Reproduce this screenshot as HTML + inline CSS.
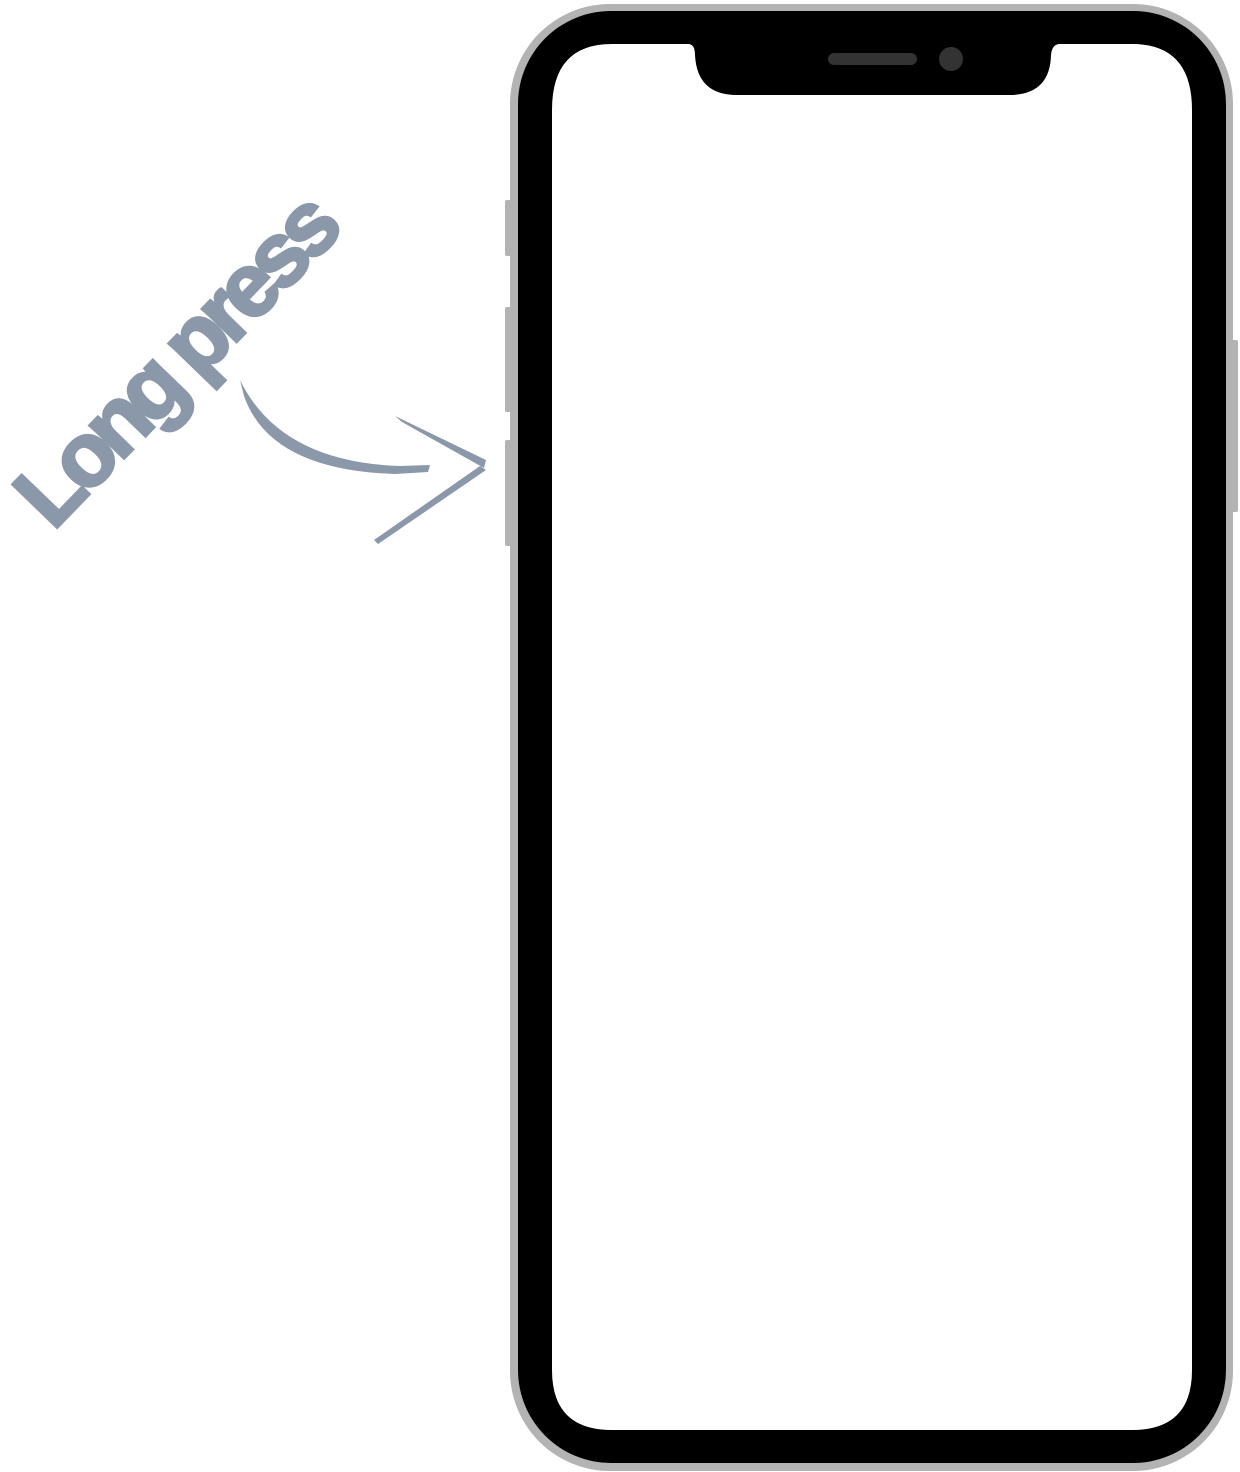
<!DOCTYPE html>
<html><head><style>
html,body{margin:0;padding:0;background:#fff;}
body{width:1240px;height:1472px;position:relative;overflow:hidden;}
.t{position:absolute;left:176px;top:362px;transform:translate(-50%,-50%) rotate(-46deg);font-family:"Liberation Sans",sans-serif;font-weight:bold;font-size:90px;color:#8a98aa;white-space:nowrap;letter-spacing:-7px;-webkit-text-stroke:3px #8a98aa;}
</style></head><body>
<svg width="1240" height="1472" style="position:absolute;left:0;top:0">
  <rect x="505" y="200" width="10" height="56" rx="2" fill="#b3b3b3"/>
  <rect x="505" y="307" width="10" height="105" rx="2" fill="#b3b3b3"/>
  <rect x="505" y="440" width="10" height="106" rx="2" fill="#b3b3b3"/>
  <rect x="1228" y="340" width="10" height="172" rx="2" fill="#b3b3b3"/>
  <rect x="510" y="4" width="723" height="1467" rx="100" fill="#b3b3b3"/>
  <rect x="518" y="11" width="708" height="1452" rx="93" fill="#000"/>
  <path d="M612,44 L688,44 Q695,44 695,55 Q697,95 737,95 L1009,95 Q1050,95 1051,55 Q1052,44 1060,44 L1132,44 Q1192,44 1192,110 L1192,1370 Q1192,1430 1132,1430 L612,1430 Q552,1430 552,1370 L552,110 Q552,44 612,44 Z" fill="#fff"/>
  <rect x="828" y="53" width="89" height="12" rx="6" fill="#333"/>
  <ellipse cx="951" cy="59" rx="12" ry="12" fill="#333"/>
  <path d="M240,380 Q280,462 400,466 L430,465 L428,472 L395,474 Q270,470 244,396 Z" fill="#8a98aa"/>
  <path d="M395,416 L486,460 L484,468 L402,422 Z" fill="#8a98aa"/>
  <path d="M486,470 L378,544 L374,540 L480,466 Z" fill="#8a98aa"/>
</svg>
<div class="t">Long press</div>
</body></html>
